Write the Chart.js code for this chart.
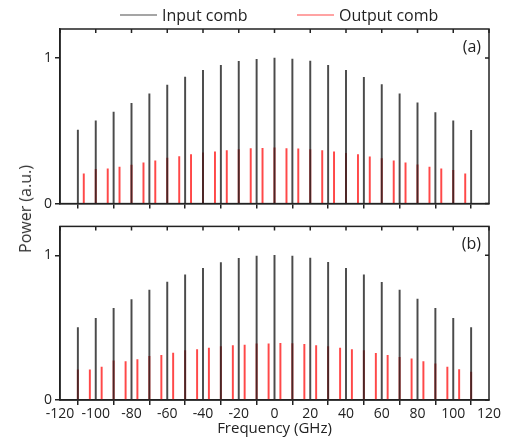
<!DOCTYPE html>
<html>
<head>
<meta charset="utf-8">
<script src="https://cdn.jsdelivr.net/npm/chart.js@4"></script>
<style>
  body { margin: 0; background: #fff; }
  #wrap { position: relative; width: 505px; height: 445px; font-family: "Open Sans", sans-serif; }
  canvas { position: absolute; left: 0; }
  #ytitle { position: absolute; left: 25px; top: 209px; transform: translate(-50%, -50%) rotate(-90deg);
            font-size: 16px; font-weight: 400; color: #333; white-space: nowrap; }
</style>
</head>
<body>
<div id="wrap">
  <canvas id="panelA" width="505" height="215" style="top:0"></canvas>
  <canvas id="panelB" width="505" height="230" style="top:215px"></canvas>
  <div id="ytitle">Power (a.u.)</div>
</div>
<script>
const inputFreq = [-110, -100, -90, -80, -70, -60, -50, -40, -30, -20, -10, 0, 10, 20, 30, 40, 50, 60, 70, 80, 90, 100, 110];
const inputA = [0.505, 0.569, 0.629, 0.690, 0.754, 0.815, 0.869, 0.916, 0.950, 0.978, 0.992, 1.0, 0.993, 0.979, 0.950, 0.916, 0.868, 0.818, 0.754, 0.692, 0.626, 0.569, 0.503];
const inputB = [0.501, 0.565, 0.633, 0.695, 0.759, 0.815, 0.866, 0.911, 0.950, 0.980, 0.995, 1.0, 0.995, 0.981, 0.952, 0.911, 0.866, 0.813, 0.759, 0.697, 0.633, 0.565, 0.501];

const outFreqA = [-106.7, -100, -93.3, -86.7, -80, -73.3, -66.7, -60, -53.3, -46.7, -40, -33.3, -26.7, -20, -13.3, -6.7, 0,
                  6.7, 13.3, 20, 26.7, 33.3, 40, 46.7, 53.3, 60, 66.7, 73.3, 80, 86.7, 93.3, 100, 106.7];
const outputA = [0.205, 0.235, 0.239, 0.251, 0.264, 0.280, 0.294, 0.312, 0.323, 0.337, 0.349, 0.355, 0.364, 0.371, 0.378, 0.380, 0.383,
                 0.378, 0.376, 0.371, 0.364, 0.355, 0.346, 0.337, 0.321, 0.310, 0.294, 0.280, 0.267, 0.251, 0.239, 0.228, 0.205];

const outFreqB = [-110, -103.3, -96.7, -90, -83.3, -76.7, -70, -63.3, -56.7, -50, -43.3, -36.7, -30, -23.3, -16.7, -10, -3.3,
                  3.3, 10, 16.7, 23.3, 30, 36.7, 43.3, 50, 56.7, 63.3, 70, 76.7, 83.3, 90, 96.7, 103.3, 110];
const outputB = [0.209, 0.209, 0.227, 0.270, 0.266, 0.280, 0.302, 0.309, 0.325, 0.341, 0.348, 0.359, 0.370, 0.377, 0.380, 0.389, 0.389,
                 0.391, 0.390, 0.384, 0.377, 0.370, 0.359, 0.348, 0.341, 0.323, 0.309, 0.295, 0.284, 0.266, 0.250, 0.227, 0.211, 0.193];

const xTicks = [-120, -100, -80, -60, -40, -20, 0, 20, 40, 60, 80, 100, 120];
const yTicks = [0, 1];
const seriesNames = ['Input comb', 'Output comb'];
const colors = ['rgba(30,30,30,0.8)', 'rgba(255,40,40,0.85)'];
const axisColor = '#222';
const font = { family: '"Open Sans", sans-serif', size: 14 };

// box around plot + inward ticks on top/right + panel label
const framePlugin = {
  id: 'frame',
  afterDatasetsDraw(chart, args, opts) {
    const { ctx, chartArea: a, scales } = chart;
    ctx.save();
    ctx.strokeStyle = axisColor;
    ctx.lineWidth = 1.5;
    ctx.strokeRect(a.left, a.top, a.right - a.left, a.bottom - a.top);
    ctx.beginPath();
    xTicks.forEach(v => {
      const px = scales.x.getPixelForValue(v);
      ctx.moveTo(px, a.top); ctx.lineTo(px, a.top + 4);
    });
    yTicks.forEach(v => {
      const py = scales.y.getPixelForValue(v);
      ctx.moveTo(a.right, py); ctx.lineTo(a.right - 4, py);
    });
    ctx.stroke();
    ctx.fillStyle = axisColor;
    ctx.font = '16px "Open Sans", sans-serif';
    ctx.textAlign = 'right';
    ctx.textBaseline = 'middle';
    ctx.fillText(opts.label, a.right - 8, a.top + 18);
    ctx.restore();
  }
};

const legendPlugin = {
  id: 'topLegend',
  afterDraw(chart, args, opts) {
    if (!opts.show) return;
    const ctx = chart.ctx;
    ctx.save();
    ctx.font = '16px "Open Sans", sans-serif';
    ctx.textBaseline = 'middle';
    ctx.textAlign = 'left';
    const starts = [120, 297];
    seriesNames.forEach((name, i) => {
      ctx.strokeStyle = colors[i];
      ctx.lineWidth = 1.2;
      ctx.beginPath();
      ctx.moveTo(starts[i], 15); ctx.lineTo(starts[i] + 37, 15);
      ctx.stroke();
      ctx.fillStyle = axisColor;
      ctx.fillText(name, starts[i] + 42, 16);
    });
    ctx.restore();
  }
};

function makePanel(id, inY, outX, outY, label, showX) {
  const pts = (xs, ys) => xs.map((x, i) => ({ x: x, y: ys[i] }));
  return new Chart(document.getElementById(id), {
    type: 'bar',
    data: {
      datasets: [
        { label: seriesNames[0], data: pts(inputFreq, inY), backgroundColor: colors[0], barThickness: 1.3, grouped: false },
        { label: seriesNames[1], data: pts(outX, outY), backgroundColor: colors[1], barThickness: 1.3, grouped: false }
      ]
    },
    options: {
      responsive: false,
      animation: false,
      devicePixelRatio: 1,
      layout: { padding: { left: 0, right: 16, top: showX ? 10 : 29, bottom: 0 } },
      scales: {
        x: {
          type: 'linear', min: -120, max: 120, offset: false,
          afterBuildTicks: s => { s.ticks = xTicks.map(v => ({ value: v })); },
          afterFit: s => { s.height = showX ? 45 : 10; },
          grid: { drawOnChartArea: false, tickLength: 5, color: axisColor, lineWidth: 1.5 },
          border: { color: axisColor, width: 1.5 },
          ticks: { display: showX, color: axisColor, font: font, padding: 1, maxRotation: 0, autoSkip: false },
          title: { display: showX, text: 'Frequency (GHz)', color: axisColor, font: { family: font.family, size: 15 }, padding: { top: 0, bottom: 7 } }
        },
        y: {
          min: 0, max: 1.2,
          afterBuildTicks: s => { s.ticks = yTicks.map(v => ({ value: v })); },
          afterFit: s => { s.width = 60; },
          grid: { drawOnChartArea: false, tickLength: 5, color: axisColor, lineWidth: 1.5 },
          border: { color: axisColor, width: 1.5 },
          ticks: { color: axisColor, font: font, padding: 3 }
        }
      },
      plugins: {
        legend: { display: false },
        tooltip: { enabled: false },
        frame: { label: label },
        topLegend: { show: !showX }
      }
    },
    plugins: [framePlugin, legendPlugin]
  });
}

makePanel('panelA', inputA, outFreqA, outputA, '(a)', false);
makePanel('panelB', inputB, outFreqB, outputB, '(b)', true);
</script>
</body>
</html>
